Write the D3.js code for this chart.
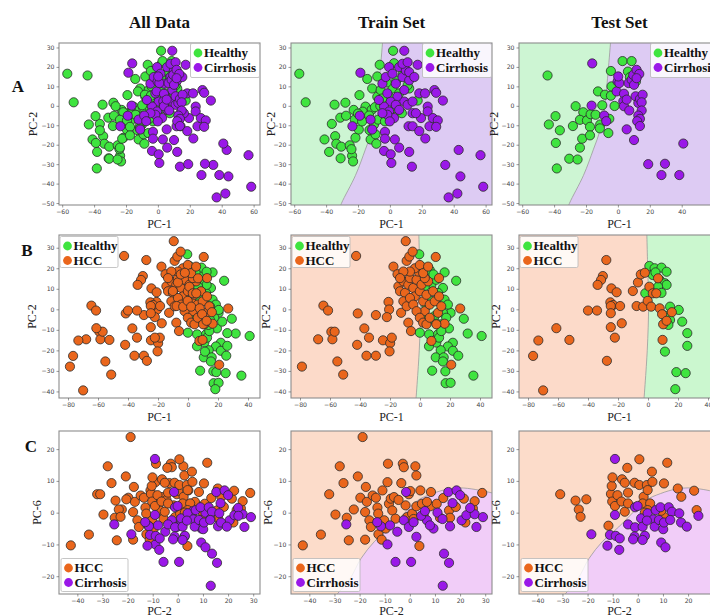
<!DOCTYPE html>
<html><head><meta charset="utf-8">
<script src="https://cdn.jsdelivr.net/npm/d3@7"></script>
<style>body{margin:0;background:#fff;overflow:hidden} svg{display:block}</style>
</head><body>
<svg id="fig" width="710" height="616"></svg>
<script>
// ---------- Row A: Healthy vs Cirrhosis (PC-1 / PC-2) ----------
const trainA_healthy = [[-56.8,16.5],[-52.8,1.8],[-41,-17.3],[-38.1,-23.7],[-34.7,0.6],[-36.4,-9.3],[-34.3,-15.6],[-33.6,-19.5],[-30.5,-21],[-30.9,-27],[-31.1,-6.1],[-27.9,1.6],[-27.5,-5.1],[-25.2,-20.3],[-23.7,-25.7],[-23.1,-28.6],[-24.1,-22.3],[-22.7,-2.1],[-22,-7.1],[-21.6,-16.4],[-19.5,-12.2],[-19.1,5.5],[-17.4,-8],[-15.3,-0.4],[-14.2,13.8],[-12.8,-12.5],[-12.1,-17.3],[-11.1,8.9],[-11.5,-2.1],[-10,-9.7],[-9.4,-0.7],[-9,-14.7],[-8.5,-19.5],[-7.9,15.1],[-6.4,21.1],[-7.9,4.7],[-7.3,-7.1],[-5.8,8.1],[-3.1,-8],[2,28.3],[2.6,21.9],[7.5,-3.8],[12.1,8.9],[17.4,2.7],[1.6,8.9],[5.8,6.4],[11.1,10.6],[-0.5,4.7],[-4.7,3.8],[3.3,-1.2],[-17,-3],[-13,-5],[-20,-4],[-6,0],[8,16],[4,13],[-2,12]];
const trainA_cirrhosis = [[-18.5,17],[-18.9,-5.1],[-23.5,-10.5],[-12.1,-7.1],[-11.1,-12.2],[-3.1,-13.4],[-3.1,-16.9],[-3.7,-23.2],[0.5,-24.9],[0.9,-29.4],[3.1,-17.3],[5.8,-21.5],[9,28.3],[12.1,-23.7],[13.8,-31.3],[11.7,-10.5],[14.2,-10.5],[17.4,21.1],[18.4,6.4],[19.5,-6.3],[18.4,-13],[22.2,-16.8],[23.7,-0.4],[23.7,-2.9],[22,6.4],[24.8,-10.5],[26.9,-6.3],[27.9,8.1],[29,6.7],[30,-7.5],[29,-10.8],[33.2,2.7],[34.7,-30.4],[36.8,-47.1],[42.3,-45.1],[44.2,-36.3],[43.1,-22.7],[56.8,-25.4],[58.5,-41.6],[-4.7,11.4],[-2.6,14.8],[-0.5,19.9],[1.6,16.5],[3.7,11.4],[5.8,19.9],[7.9,14.8],[10,18.2],[12.1,13.1],[4.7,4.7],[0.5,2.2],[-1.6,6.4],[-3.7,-0.4],[-0.5,-2.9],[2.6,-6.3],[9,2.2],[11.1,0.5],[14.2,2.2],[14.2,-3.8],[16.3,-3.8],[7.9,21.6],[11.1,22.4],[-1.6,-4.6],[-0.1,-8],[-6.9,3],[-4.7,-3.8],[3.7,0.5],[5.8,-2.1],[9,8.1],[12.1,17.3],[15.3,14.8]];
const testA_healthy = [[-44.1,15.6],[-39.1,-5.3],[-43.3,-9.6],[-36.4,-12.6],[-38.9,-19.1],[-38.3,-32.2],[-30.5,-27.2],[-25.3,-27.6],[-23.8,-21.5],[-22.4,-16.9],[-28.2,-10.4],[-26.5,-0.2],[-21.7,-3.3],[-23.8,-7.2],[-19.4,-7.5],[-17.5,-10.8],[-17.1,-4.3],[-14,-4.6],[-17.5,-15.2],[-11.1,-9.6],[-11.3,-11.6],[-12.5,7.4],[-9.8,0.3],[-8.1,5.7],[-6,-14],[-5.4,-6.7],[-4.4,5.2],[-4.4,17.9],[-2.1,-0.1],[-4,10],[2.9,23],[8.6,23],[6.3,17.6],[7.5,14.7],[11.3,12.5]];
const testA_cirrhosis = [[-16.1,21.8],[-16.5,0.1],[-8.6,-5],[-7.3,-7.9],[-0.2,12.5],[-0.8,7.4],[0.9,11.7],[0.2,15.1],[3.8,6.2],[3.4,2.3],[3.8,-0.2],[5.5,3.2],[7.1,-2.4],[5.5,-12.1],[6.7,11.7],[8.6,13.4],[9.6,15.9],[10.1,10.8],[11.7,18.5],[13.4,16.4],[11.7,14.2],[11.1,4.9],[12.8,1.5],[13.8,3.5],[15.5,5.7],[14.9,1.8],[14.9,-2.4],[12.8,-5],[13.8,-6.7],[12.1,-7.9],[13.8,-10.4],[10.1,-17.6],[41,-19.4],[19,-30],[29.5,-29.8],[27.3,-35.6],[38.5,-35.6]];
const boundaryA = [[-32.5,-55],[-30.4,-50.2],[-21.6,-35.8],[-15.3,-22.3],[-11,-12.2],[-8.5,-2],[-6.8,11.5],[-4.7,31.7],[-4.3,36]];

// ---------- Row B: Healthy vs HCC (PC-1 / PC-2) ----------
const trainB_healthy = [[-0.5,26.8],[1,20.8],[6.5,19.2],[16.4,18],[24.1,13.9],[15.3,10.4],[13.1,3.6],[20.4,-1.7],[29.2,-4.6],[19.3,-9.3],[12,-12.2],[6.1,-12.2],[-0.1,-11.4],[21.9,-16.3],[18.6,-18.1],[13.8,-19.9],[10.5,-23.4],[15.8,-23.4],[21.9,-20.2],[25.5,-22.6],[15.3,-25.4],[8.1,-29.9],[16.9,-30.2],[17.1,-36],[20.4,-35.8],[31.8,-11.8],[41.1,-13],[35.6,-32.3],[10.9,-16.2],[14.2,-7.3],[5.4,-5.7],[9.8,-3.3],[15.3,-1.7],[17.5,-4.1],[7.6,12],[10.9,14.4],[3.2,11.2],[16.4,4.7],[18.6,2.3],[12.7,-13.8],[14.2,-10.6],[2.1,-2.5],[4.3,1.5],[9,17],[12,8],[8,4],[11,-7],[6,-18]];
const trainB_hcc = [[-78.7,-27.9],[-64.4,1.8],[-61.3,-0.6],[-59.1,-10.9],[-58.4,-14.6],[-56.9,-10.9],[-67.9,-14.6],[-55.1,-25.4],[-51.2,-31.8],[-42.6,26],[-41.5,-2],[-41.9,-17.3],[-37.1,-9.3],[-34,-13.8],[-35.7,-22.6],[-29.4,-2.8],[-29.4,-22.6],[-24.7,-15.1],[-21,3.6],[-20.6,-0.1],[-22.1,-3.8],[-19.9,-16.5],[-18.8,-13.8],[-20.3,-20.5],[-17.7,20.8],[-15,17.1],[-12.6,-1.7],[-9.5,33.2],[-8.9,23.6],[-7.1,25.7],[-4.9,28.1],[-7.8,-6.5],[-6,-10.6],[10.5,25.5],[12.7,15.2],[26.8,0.4],[20.8,-27],[7.6,-15.4],[16.4,-7],[-14.4,11.2],[-13.3,8.8],[-11.1,13.6],[-10,8],[-7.8,12],[-6.7,15.2],[-4.5,10.4],[-3.4,6.3],[-2.3,14.4],[-0.1,8.8],[1,12],[2.1,3.9],[3.2,-0.9],[4.3,7.1],[5.4,13.6],[6.5,2.3],[8.7,8.8],[9.8,3.9],[-11.1,3.9],[-8.9,1.5],[-6.7,5.5],[-4.5,2.3],[-2.3,-0.9],[-0.1,-4.1],[2.1,-6.5],[4.3,-7.3],[6.5,-4.1],[3.2,15.2],[-1.2,18.4],[-3.4,20],[-6.7,18.4],[-11.1,18.4],[-13.3,15.2],[12,-1.7],[10.9,-7.3],[12.7,6.3],[14.2,1.5],[-0.1,21.6],[2.1,17.6],[5.4,20.8]];
const testB_healthy = [[0.9,21.1],[4.4,20],[9,20.3],[12.4,18.3],[3.2,16.7],[7.8,14.3],[11.3,12.7],[12.4,11.9],[-1.8,7.8],[14.7,1.3],[20.5,-0.3],[14.7,-5.2],[22.8,-6],[26.2,-11.6],[26.2,-17.8],[11.3,-20.6],[18.9,-30.6],[25.1,-31.1],[18.2,-38.9],[13.6,-7.6],[6.7,11],[9,8],[5,18],[11,-3]];
const testB_hcc = [[-76.6,-22.7],[-73.1,-15.2],[-69.9,-39.5],[-61.1,-9.2],[-52.4,-14.9],[-40,-0.6],[-34,-0.6],[-27.8,24],[-30.1,16.2],[-31.3,14.3],[-33.6,11.9],[-24.4,10.2],[-20.9,8.3],[-25.1,3.4],[-23.2,2.1],[-24.8,1.6],[-24.8,-1.9],[-18.6,1.6],[-17.5,-6.8],[-22.1,-13.8],[-24.8,-8.7],[-27.4,-25.1],[-10.1,8.9],[-6.7,13.1],[-4.8,17],[-2.1,17.8],[-7.6,1.6],[-3.2,1.3],[-0.2,4.1],[0.9,11],[2.1,1.3],[3.2,7.8],[5.5,7.8],[6.7,15.1],[7.8,0.5],[9.4,-2.4],[10.1,-7.3],[9.7,-14.9],[12.4,-5.6],[15.9,-1.4]];
const boundaryB = [[-0.9,40],[-0.2,20],[0.4,2],[-0.5,-20],[-3,-47]];

// ---------- Row C: HCC vs Cirrhosis (PC-2 / PC-6) ----------
const trainC_hcc = [[-42.6,-10.3],[-35.4,-6.9],[-32.1,5.8],[-29.6,-0.6],[-27.9,14.6],[-26.4,9.3],[-25.1,-1.6],[-24.3,-8.7],[-22.3,1],[-20.7,11.4],[-19.7,4.7],[-18.8,23.8],[-17.8,-8.5],[-17.5,8.1],[-17.8,0.2],[-17.1,3.4],[-16.1,-2.4],[-15.5,-4.5],[-14.8,5.4],[-13.5,4.7],[-12.9,1.6],[-12.6,-0.3],[-12.5,-6.8],[-11.2,-8.5],[-10.9,7],[-10.2,-2.4],[-9.6,-5],[-8.9,9.6],[-8.7,15.4],[-8.3,2.8],[-7.6,4.4],[-7,0.7],[-6.3,4.9],[-5.7,-1.9],[-3.4,9.3],[-2.8,15.4],[-2.4,14.3],[-1.7,2.3],[-1.1,-1.4],[-0.4,5.8],[0.2,6.8],[0.9,-0.3],[2.2,14.6],[2.6,11.7],[2.6,2],[3.8,-10.5],[4.2,7],[4.8,2.8],[5.5,-0.8],[8.4,6.5],[8.1,2],[10.7,2.8],[12,-1.6],[13.3,4.6],[15.6,0.7],[16,-1.6],[18.3,1.8],[21.5,4.4],[22.1,-3.1],[25.1,1.3],[25.8,3.6],[28.8,6.2],[6.8,3.4],[-4.5,4],[1.5,-2]];
const trainC_cirrhosis = [[-25.3,-3.7],[-8.9,-10],[-5.7,-15.5],[0.5,-15.5],[-1.5,6.5],[-2.4,-2.4],[-0.4,-4.5],[2.6,-7.6],[6.8,-2.4],[9.4,-5],[15.3,6.5],[18.6,7],[20.6,-2.4],[22.5,-0.8],[25.8,-0.5],[26.5,-4.5],[29.1,-1.4],[13.6,-12.9],[15.6,-15.8],[13.1,-23],[16,-4.3],[-7.9,-4],[-11.5,-4.3],[1.5,-3],[4.5,-1],[11,0],[13,-2],[8,-4],[20,5.5],[17,3],[24,1.5],[-5,-6],[-13,-3],[6,0.5]];
const testC_hcc = [[-30.9,5.8],[-24.8,3.8],[-23.5,1],[-22.8,-1.3],[-20.5,4.2],[-11.7,-4.1],[-10.7,5.9],[-10.4,8.4],[-10.1,11.1],[-10.2,3.5],[-9.1,2.1],[-8.1,5.5],[-6.5,3.5],[-6.3,10.5],[-5.2,9.4],[-5.2,0.3],[-3.9,6.3],[-3.9,2.9],[-4.2,14.1],[-1.3,9.4],[0.6,16.8],[0.6,8.7],[2.3,5],[1.9,2.9],[3.6,8.7],[3.9,7.1],[4.9,2.9],[5.6,12.9],[5.8,9.7],[3.9,0.8],[10.4,9.2],[11.7,15.7],[10.4,-1.3],[15.9,7.6],[17.3,5],[22.4,6.9],[23.4,0.8],[9.3,0.6],[2.8,0]];
const testC_cirrhosis = [[-9.1,16.9],[-9.1,-0.7],[-18.5,-6.8],[-12.1,-10.4],[-11.1,-7],[-8.8,-7.3],[-7.2,-8.1],[-7.4,-11.7],[-3.9,-3.7],[-1.1,-4.6],[-1.3,-7.5],[-1.9,-8.4],[-1.1,1.7],[-0.1,2.1],[1.3,-1.8],[1.9,-4.4],[2.8,-7.3],[1.9,-8.6],[3.9,-0.2],[6.2,-2.1],[6.7,-4.4],[7.1,0.8],[8.4,-2.3],[9,1.7],[10.1,-5.2],[10.4,-3.1],[9.3,-9.4],[11,-10.9],[12.3,1.7],[13.6,0.3],[12.9,-2.3],[16.5,-0.2],[17.2,-3.1],[19.5,-4.4],[24.1,-1],[3.6,-2.5]];
const boundaryC = [[-33,-29],[-24,-21],[-19.5,-14.5],[-14,-9],[-7.6,-4.5],[-2,0],[3,3.8],[9,6],[15,7.4],[20,7.8],[26,7.3],[35,5.8]];

// ---------- tick values ----------
const ticksA_x = [-60,-40,-20,0,20,40,60];
const ticksA_y = [30,20,10,0,-10,-20,-30,-40,-50];
const ticksB_x = [-80,-60,-40,-20,0,20,40];
const ticksB_y = [30,20,10,0,-10,-20,-30,-40];
const ticksC_x = [-40,-30,-20,-10,0,10,20,30];
const ticksC_y = [20,10,0,-10,-20];

const columnTitles = ["All Data","Train Set","Test Set"];
const rowLetters = ["A","B","C"];

// ---------- styling ----------
const COL = {
  Healthy: "#3fe43f",
  Cirrhosis: "#9a18e8",
  HCC: "#ea661c"
};
const REGION = {
  HealthyA: "#cdf5d3", CirrhosisA: "#ddcbf3",
  HealthyB: "#cbf7cf", HCCB: "#fcdac9",
  HCCC: "#fcdcca", CirrhosisC: "#f1cdf8"
};
const SERIF = "'Liberation Serif','Times New Roman',serif";
const SANS = "'DejaVu Sans',sans-serif";

const svg = d3.select("#fig");
const colX = [59, 291, 519];
const panelW = 201;
const rows = [
  {key:"A", top:43, h:162, xd:[-62,64], yd:[-51,32.3], xt:ticksA_x, yt:ticksA_y, xlab:"PC-1", ylab:"PC-2",
   classes:["Healthy","Cirrhosis"],
   train:[trainA_healthy, trainA_cirrhosis], test:[testA_healthy, testA_cirrhosis],
   boundary:boundaryA, regionColors:[REGION.HealthyA, REGION.CirrhosisA],
   regionCorners:[[-200,60],[-200,-120]], legendPos:"tr",
   xlabDy:23, ylabDx:[22,16,21]},
  {key:"B", top:235, h:163, xd:[-86,48], yd:[-43.2,36.2], xt:ticksB_x, yt:ticksB_y, xlab:"PC-1", ylab:"PC-2",
   classes:["Healthy","HCC"],
   train:[trainB_healthy, trainB_hcc], test:[testB_healthy, testB_hcc],
   boundary:boundaryB, regionColors:[REGION.HealthyB, REGION.HCCB],
   regionCorners:[[200,-120],[200,120]], legendPos:"tl",
   xlabDy:23, ylabDx:[23,21,19]},
  {key:"C", top:431, h:163, xd:[-47.3,32.7], yd:[-25.6,25.7], xt:ticksC_x, yt:ticksC_y, xlab:"PC-2", ylab:"PC-6",
   classes:["HCC","Cirrhosis"],
   train:[trainC_hcc, trainC_cirrhosis], test:[testC_hcc, testC_cirrhosis],
   boundary:boundaryC, regionColors:[REGION.HCCC, REGION.CirrhosisC],
   regionFirstIsOuter:true,
   regionCorners:[[200,-120],[-200,-120]], legendPos:"bl",
   xlabDy:21, ylabDx:[18,19,19]}
];

const fmt = d => d < 0 ? "\u2212" + Math.abs(d) : String(d);

// column titles
columnTitles.forEach((t, i) => {
  svg.append("text").attr("x", colX[i] + panelW/2).attr("y", 28)
    .attr("text-anchor","middle").attr("font-family",SERIF).attr("font-weight","bold")
    .attr("font-size",17).attr("fill","#111").text(t);
});

let clipId = 0;
rows.forEach((r, ri) => {
  // row letter
  const letterPos = [[18,92],[27,256],[31,452]][ri];
  svg.append("text").attr("x", letterPos[0]).attr("y", letterPos[1]).attr("text-anchor","middle")
    .attr("font-family",SERIF).attr("font-weight","bold").attr("font-size",17).attr("fill","#111")
    .text(rowLetters[ri]);

  for (let c = 0; c < 3; c++) {
    const x0 = colX[c], y0 = r.top, w = panelW, h = r.h;
    const x = d3.scaleLinear().domain(r.xd).range([x0, x0 + w]);
    const y = d3.scaleLinear().domain(r.yd).range([y0 + h, y0]);
    const g = svg.append("g");
    const cid = "clip" + (clipId++);
    g.append("clipPath").attr("id", cid).append("rect")
      .attr("x", x0).attr("y", y0).attr("width", w).attr("height", h);
    const inner = g.append("g").attr("clip-path", `url(#${cid})`);

    // background / decision regions
    if (c === 0) {
      inner.append("rect").attr("x", x0).attr("y", y0).attr("width", w).attr("height", h).attr("fill", "#fff");
    } else {
      const outerColor = r.regionFirstIsOuter ? r.regionColors[0] : r.regionColors[1];
      const innerColor = r.regionFirstIsOuter ? r.regionColors[1] : r.regionColors[0];
      inner.append("rect").attr("x", x0).attr("y", y0).attr("width", w).attr("height", h).attr("fill", outerColor);
      const curve = d3.line().x(d => x(d[0])).y(d => y(d[1])).curve(d3.curveCatmullRom.alpha(0.5));
      const corners = r.regionCorners.map(p => `L${x(p[0])},${y(p[1])}`).join("");
      inner.append("path").attr("d", curve(r.boundary) + corners + "Z").attr("fill", innerColor);
      inner.append("path").attr("d", curve(r.boundary)).attr("fill","none")
        .attr("stroke","#9a9a9a").attr("stroke-width",0.8);
    }

    // points: the full data set is the union of train and test
    const sets = c === 0 ? [r.train[0].concat(r.test[0]), r.train[1].concat(r.test[1])]
               : c === 1 ? r.train : r.test;
    sets.forEach((pts, k) => {
      inner.append("g").selectAll("circle").data(pts).join("circle")
        .attr("cx", d => x(d[0])).attr("cy", d => y(d[1])).attr("r", 4.6)
        .attr("fill", COL[r.classes[k]]).attr("stroke", "#2b2b2b").attr("stroke-width", 0.8);
    });

    // frame
    g.append("rect").attr("x", x0).attr("y", y0).attr("width", w).attr("height", h)
      .attr("fill","none").attr("stroke","#8c8c8c").attr("stroke-width",1.1);

    // axes
    const ax = g.append("g").attr("transform", `translate(0,${y0 + h})`)
      .call(d3.axisBottom(x).tickValues(r.xt).tickSize(2.5).tickPadding(2).tickFormat(fmt));
    const ay = g.append("g").attr("transform", `translate(${x0},0)`)
      .call(d3.axisLeft(y).tickValues(r.yt).tickSize(2.5).tickPadding(2).tickFormat(fmt));
    [ax, ay].forEach(a => {
      a.select(".domain").remove();
      a.selectAll("line").attr("stroke","#555").attr("stroke-width",0.6);
      a.selectAll("text").attr("font-family",SANS).attr("font-size",6.2).attr("fill","#444");
    });

    // axis titles
    g.append("text").attr("x", x0 + w/2).attr("y", y0 + h + r.xlabDy).attr("text-anchor","middle")
      .attr("font-family",SERIF).attr("font-size",12).attr("fill","#222").text(r.xlab);
    g.append("text").attr("transform", `translate(${x0 - r.ylabDx[c]},${y0 + h/2}) rotate(-90)`)
      .attr("text-anchor","middle").attr("font-family",SERIF).attr("font-size",12).attr("fill","#222")
      .text(r.ylab);

    // legend
    const lw = r.legendPos === "tr" ? 69 : (r.legendPos === "tl" ? 58 : 67);
    const lh = r.legendPos === "tr" ? 34 : (r.legendPos === "tl" ? 31 : 33);
    let lx, ly;
    if (r.legendPos === "tr") { lx = x0 + w - lw - 0.5; ly = y0 + 0.5; }
    else if (r.legendPos === "tl") { lx = x0 + 1; ly = y0 + 1.5; }
    else { lx = x0 + 2; ly = y0 + h - lh - 2.5; }
    const lg = g.append("g");
    lg.append("rect").attr("x", lx).attr("y", ly).attr("width", lw).attr("height", lh).attr("rx", 1.5)
      .attr("fill","#fff").attr("fill-opacity",0.82).attr("stroke","#b8b8b8").attr("stroke-width",0.8);
    r.classes.forEach((cl, k) => {
      const cy = ly + 9.5 + k * 14.5;
      lg.append("circle").attr("cx", lx + 7.5).attr("cy", cy).attr("r", 4.4).attr("fill", COL[cl]);
      lg.append("text").attr("x", lx + 13.5).attr("y", cy + 4.3).attr("font-family",SERIF)
        .attr("font-weight","bold").attr("font-size",13).attr("fill","#111").text(cl);
    });
  }
});
</script>
</body></html>
